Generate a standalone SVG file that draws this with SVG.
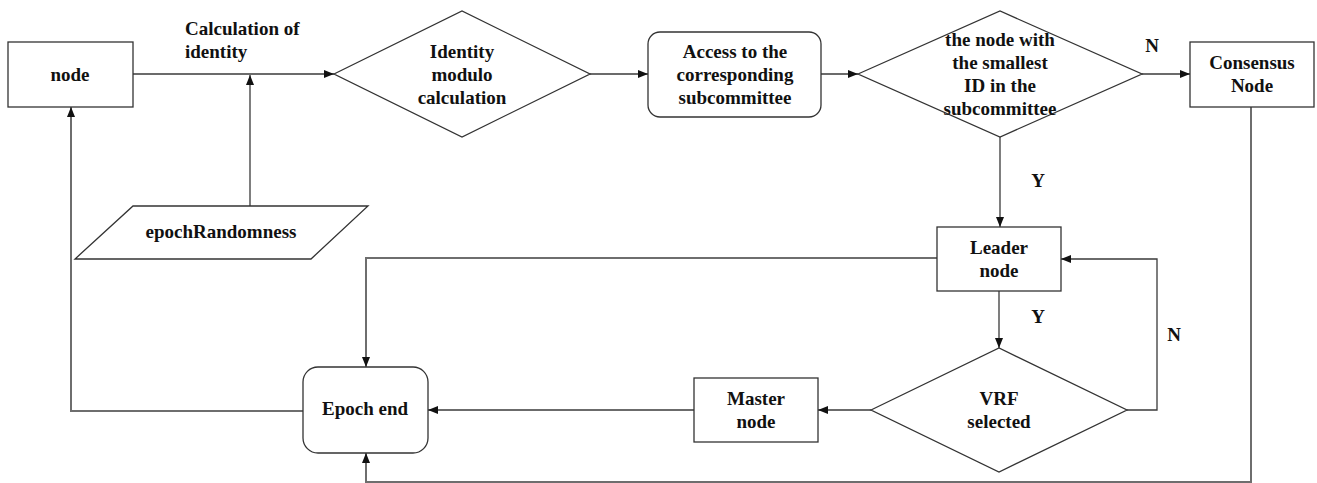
<svg xmlns="http://www.w3.org/2000/svg" width="1317" height="483" viewBox="0 0 1317 483">
  <style>
    .shape { fill: #ffffff; stroke: #333333; stroke-width: 1.3; }
    .wire { fill: none; stroke: #3a3a3a; stroke-width: 1.3; }
    .wire-soft { fill: none; stroke: #6e6e6e; stroke-width: 2; }
    .lbl { font-family: 'Liberation Serif', 'Times New Roman', Tinos, 'DejaVu Serif', serif; font-weight: bold; font-size: 19px; fill: #111111; text-anchor: middle; }
    .lbl-start { text-anchor: start; }
  </style>
  <defs>
    <marker id="arrow" viewBox="0 0 10 10" refX="10" refY="5" markerWidth="10" markerHeight="10" markerUnits="userSpaceOnUse" orient="auto">
      <path d="M0,1 L10,5 L0,9 Z" fill="#111111"/>
    </marker>
  </defs>

  <!-- connectors -->
  <g id="connectors">
    <line class="wire" x1="133" y1="74" x2="334" y2="74" marker-end="url(#arrow)"/>
    <line class="wire" x1="250" y1="206" x2="250" y2="75" marker-end="url(#arrow)"/>
    <line class="wire" x1="590" y1="74" x2="648" y2="74" marker-end="url(#arrow)"/>
    <line class="wire" x1="821" y1="74" x2="858" y2="74" marker-end="url(#arrow)"/>
    <line class="wire" x1="1142" y1="74" x2="1190" y2="74" marker-end="url(#arrow)"/>
    <line class="wire" x1="1000" y1="137" x2="1000" y2="227" marker-end="url(#arrow)"/>
    <line class="wire" x1="999" y1="291" x2="999" y2="348" marker-end="url(#arrow)"/>
    <polyline class="wire" points="1127,410 1157,410 1157,259 1061,259" marker-end="url(#arrow)"/>
    <line class="wire" x1="871" y1="410" x2="818" y2="410" marker-end="url(#arrow)"/>
    <line class="wire" x1="694" y1="410" x2="428" y2="410" marker-end="url(#arrow)"/>
    <polyline class="wire-soft" points="937,258 366,258 366,367" marker-end="url(#arrow)"/>
    <polyline class="wire-soft" points="303,411 71,411 71,107" marker-end="url(#arrow)"/>
    <polyline class="wire-soft" points="1251,107 1251,482 366,482 366,453" marker-end="url(#arrow)"/>
  </g>

  <!-- edge labels -->
  <g id="edge-labels">
    <text class="lbl lbl-start" x="185" y="35">Calculation of</text>
    <text class="lbl lbl-start" x="185" y="58">identity</text>
    <text class="lbl" x="1152" y="52">N</text>
    <text class="lbl" x="1038" y="187">Y</text>
    <text class="lbl" x="1038" y="323">Y</text>
    <text class="lbl" x="1174" y="341">N</text>
  </g>

  <g id="node">
    <rect class="shape" x="8" y="42" width="125" height="65"/>
    <text class="lbl" x="70" y="81">node</text>
  </g>

  <g id="epoch-randomness">
    <polygon class="shape" points="133,206 368,206 311,259 75,259"/>
    <text class="lbl" x="221" y="238">epochRandomness</text>
  </g>

  <g id="identity-modulo">
    <polygon class="shape" points="334,74 462,11 590,74 462,137"/>
    <text class="lbl" x="462" y="58">Identity</text>
    <text class="lbl" x="462" y="81">modulo</text>
    <text class="lbl" x="462" y="104">calculation</text>
  </g>

  <g id="access-subcommittee">
    <rect class="shape" x="648" y="32" width="173" height="85" rx="12" ry="12"/>
    <text class="lbl" x="735" y="58">Access to the</text>
    <text class="lbl" x="735" y="81">corresponding</text>
    <text class="lbl" x="735" y="104">subcommittee</text>
  </g>

  <g id="smallest-id">
    <polygon class="shape" points="858,74 1000,11 1142,74 1000,137"/>
    <text class="lbl" x="1000" y="46">the node with</text>
    <text class="lbl" x="1000" y="69">the smallest</text>
    <text class="lbl" x="1000" y="92">ID in the</text>
    <text class="lbl" x="1000" y="115">subcommittee</text>
  </g>

  <g id="consensus-node">
    <rect class="shape" x="1190" y="42" width="124" height="65"/>
    <text class="lbl" x="1252" y="69">Consensus</text>
    <text class="lbl" x="1252" y="92">Node</text>
  </g>

  <g id="leader-node">
    <rect class="shape" x="937" y="227" width="124" height="64"/>
    <text class="lbl" x="999" y="254">Leader</text>
    <text class="lbl" x="999" y="277">node</text>
  </g>

  <g id="vrf-selected">
    <polygon class="shape" points="871,410 999,348 1127,410 999,472"/>
    <text class="lbl" x="999" y="405">VRF</text>
    <text class="lbl" x="999" y="428">selected</text>
  </g>

  <g id="master-node">
    <rect class="shape" x="694" y="378" width="124" height="64"/>
    <text class="lbl" x="756" y="405">Master</text>
    <text class="lbl" x="756" y="428">node</text>
  </g>

  <g id="epoch-end">
    <rect class="shape" x="303" y="367" width="125" height="86" rx="15" ry="15"/>
    <text class="lbl" x="365" y="415">Epoch end</text>
  </g>
</svg>
